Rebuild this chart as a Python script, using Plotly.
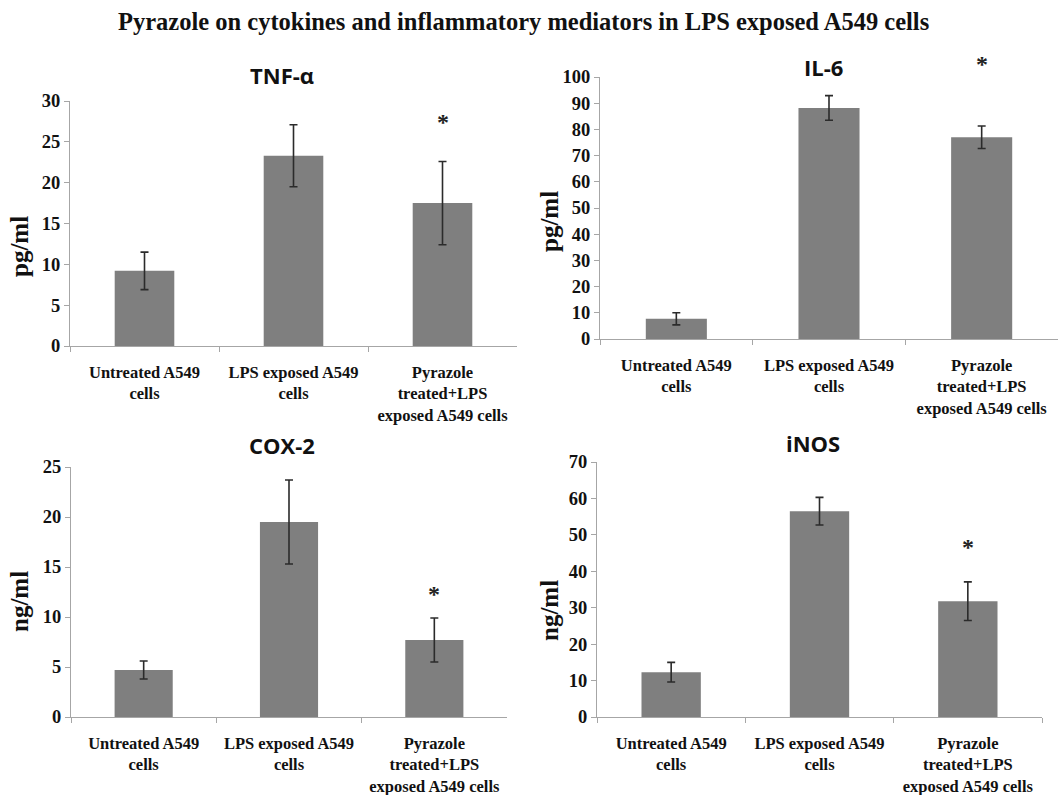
import plotly.graph_objects as go

categories = ["Untreated A549<br>cells", "LPS exposed A549<br>cells", "Pyrazole<br>treated+LPS<br>exposed A549 cells"]

tnf_values = [9.2, 23.3, 17.5]
tnf_errors = [2.3, 3.8, 5.1]
il6_values = [7.7, 88.2, 77.0]
il6_errors = [2.3, 4.7, 4.3]
cox2_values = [4.7, 19.5, 7.7]
cox2_errors = [0.9, 4.2, 2.2]
inos_values = [12.3, 56.5, 31.8]
inos_errors = [2.7, 3.8, 5.3]

panel_titles = ["TNF-α", "IL-6", "COX-2", "iNOS"]
y_labels = ["pg/ml", "pg/ml", "ng/ml", "ng/ml"]
y_ranges = [[0, 30], [0, 100], [0, 25], [0, 70]]
y_dticks = [5, 10, 5, 10]
star_y = [27.4, 105, 12.3, 46.7]

W, H = 1062, 795
# plot-area boxes in pixels: (x0, x1, ytop, ybottom)
boxes = [(70, 517, 101, 346), (600, 1058, 77, 339), (71, 507, 467, 717), (597, 1042, 462, 717)]
title_px = [(282, 75), (823, 67), (282, 445), (813, 443)]
ylab_px = [(19, 247), (549, 222), (19, 602), (549, 611)]

series = [(tnf_values, tnf_errors), (il6_values, il6_errors), (cox2_values, cox2_errors), (inos_values, inos_errors)]

fig = go.Figure()
serif = "Liberation Serif"
annotations = []
for i, (vals, errs) in enumerate(series):
    n = i + 1
    xa = "x" if n == 1 else f"x{n}"
    ya = "y" if n == 1 else f"y{n}"
    fig.add_trace(go.Bar(
        x=categories, y=vals, xaxis=xa, yaxis=ya,
        marker=dict(color="#7f7f7f", line=dict(width=0)),
        error_y=dict(type="data", array=errs, visible=True, color="#2b2b2b", thickness=1.6, width=4),
        width=0.4, showlegend=False, cliponaxis=False, hoverinfo="skip",
    ))
    x0, x1, yt, yb = boxes[i]
    dom_x = [x0 / W, x1 / W]
    dom_y = [(H - yb) / H, (H - yt) / H]
    xkey = "xaxis" if n == 1 else f"xaxis{n}"
    ykey = "yaxis" if n == 1 else f"yaxis{n}"
    fig.update_layout(**{
        xkey: dict(domain=dom_x, anchor=ya, type="category", showline=True, linecolor="#a6a6a6", linewidth=1.2,
                   ticks="outside", tickson="boundaries", ticklen=5, tickcolor="#a6a6a6", showgrid=False,
                   ticklabelstandoff=11, automargin=False, fixedrange=True,
                   tickfont=dict(family=serif, size=16.5, color="#111", weight="bold"), tickangle=0),
        ykey: dict(domain=dom_y, anchor=xa, range=y_ranges[i], dtick=y_dticks[i], showline=True,
                   linecolor="#a6a6a6", linewidth=1.2, ticks="outside", ticklen=5, tickcolor="#a6a6a6",
                   showgrid=False, zeroline=False, automargin=False, fixedrange=True,
                   tickfont=dict(family=serif, size=18.5, color="#111", weight="bold")),
    })
    annotations.append(dict(text=f"<b>{panel_titles[i]}</b>", x=title_px[i][0] / W, y=(H - title_px[i][1]) / H,
                            xref="paper", yref="paper", showarrow=False, xanchor="center", yanchor="middle",
                            font=dict(family="Open Sans", size=22, color="#111")))
    annotations.append(dict(text=f"<b>{y_labels[i]}</b>", x=ylab_px[i][0] / W, y=(H - ylab_px[i][1]) / H,
                            xref="paper", yref="paper", showarrow=False, textangle=-90,
                            xanchor="center", yanchor="middle",
                            font=dict(family=serif, size=25, color="#111")))
    # significance star, positioned via the axis mapping (converted to paper so it may sit above the axis range)
    frac = (star_y[i] - y_ranges[i][0]) / (y_ranges[i][1] - y_ranges[i][0])
    annotations.append(dict(text="<b>*</b>", x=categories[2], xref=xa,
                            y=dom_y[0] + frac * (dom_y[1] - dom_y[0]), yref="paper",
                            showarrow=False, xanchor="center", yanchor="middle",
                            font=dict(family=serif, size=24, color="#222")))

annotations.append(dict(text="<b>Pyrazole on cytokines and inflammatory mediators in LPS exposed A549 cells</b>",
                        x=523 / W, y=(H - 22) / H, xref="paper", yref="paper", showarrow=False,
                        xanchor="center", yanchor="middle",
                        font=dict(family=serif, size=24.5, color="#111")))

fig.update_layout(width=W, height=H, margin=dict(l=0, r=0, t=0, b=0, autoexpand=False), plot_bgcolor="white",
                  paper_bgcolor="white", annotations=annotations, bargap=0.6, hovermode=False)
fig.write_html("out.html", config={"displayModeBar": False},
               post_script="document.body.style.margin='0';document.body.style.overflow='hidden';")
